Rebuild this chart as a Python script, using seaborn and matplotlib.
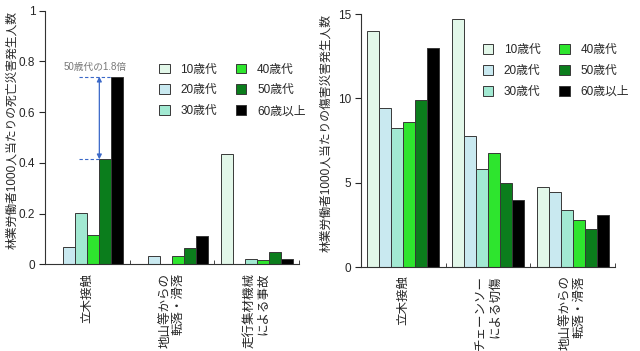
import seaborn as sns
import matplotlib.pyplot as plt
import pandas as pd

# age groups and colours
ages = ['10歳代', '20歳代', '30歳代', '40歳代', '50歳代', '60歳以上']
colors = ['#e2f7e9', '#c9e9f0', '#a2e9d2', '#2ee52e', '#0b7d1c', '#000000']

# fatal accidents per 1000 workers
fatal_cats = ['立木接触', '地山等からの\n転落・滑落', '走行集材機械\nによる事故']
fatal_10 = [0.0, 0.0, 0.435]
fatal_20 = [0.067, 0.033, 0.0]
fatal_30 = [0.201, 0.0, 0.020]
fatal_40 = [0.116, 0.033, 0.017]
fatal_50 = [0.414, 0.063, 0.050]
fatal_60 = [0.740, 0.112, 0.020]

# injury accidents per 1000 workers
injury_cats = ['立木接触', 'チェーンソー\nによる切傷', '地山等からの\n転落・滑落']
injury_10 = [14.0, 14.7, 4.75]
injury_20 = [9.45, 7.75, 4.48]
injury_30 = [8.27, 5.82, 3.41]
injury_40 = [8.6, 6.79, 2.82]
injury_50 = [9.92, 5.0, 2.23]
injury_60 = [13.0, 3.98, 3.06]


def long_df(cats, series):
    rows = []
    for age, vals in zip(ages, series):
        for c, v in zip(cats, vals):
            rows.append({'cat': c, 'age': age, 'value': v})
    return pd.DataFrame(rows)


df_fatal = long_df(fatal_cats, [fatal_10, fatal_20, fatal_30, fatal_40, fatal_50, fatal_60])
df_injury = long_df(injury_cats, [injury_10, injury_20, injury_30, injury_40, injury_50, injury_60])

sns.set_style('ticks')
plt.rcParams['font.family'] = ['Liberation Sans', 'Noto Sans CJK JP']
plt.rcParams['font.size'] = 8.5

fig = plt.figure(figsize=(6.4, 3.51), dpi=100)
ax1 = fig.add_axes([0.0703, 0.247, 0.397, 0.7225])
ax2 = fig.add_axes([0.564, 0.239, 0.397, 0.721])


def draw(ax, df, cats, ymax, yticks, ylabel, leg_anchor, label_x):
    sns.barplot(data=df, x='cat', y='value', hue='age', hue_order=ages,
                order=cats, palette=colors, width=0.85, edgecolor='#383838',
                linewidth=0.7, errorbar=None, ax=ax, saturation=1)
    ax.set_xlim(-0.5, 2.5)
    ax.set_ylim(0, ymax)
    ax.set_yticks(yticks)
    ax.set_yticklabels(['{:g}'.format(t) for t in yticks])
    ax.set_xlabel('')
    ax.set_ylabel(ylabel, fontsize=8.5)
    ax.yaxis.set_label_coords(label_x, 0.53)
    ax.set_xticks(range(len(cats)))
    ax.set_xticklabels(cats, rotation=90, va='top', ha='center',
                       multialignment='right', fontsize=9)
    ax.set_xticks([0.5, 1.5, 2.5], minor=True)
    ax.tick_params(axis='x', which='major', length=0, pad=6)
    ax.tick_params(axis='x', which='minor', direction='in', length=3)
    ax.tick_params(axis='y', length=4, width=0.8, pad=3)
    for s in ['top', 'right']:
        ax.spines[s].set_visible(False)
    for s in ['left', 'bottom']:
        ax.spines[s].set_linewidth(0.8)
        ax.spines[s].set_color('#333333')
    ax.legend(loc='upper left', bbox_to_anchor=leg_anchor, ncol=2,
              frameon=False, handlelength=0.9, handleheight=0.9,
              columnspacing=1.6, labelspacing=0.75, handletextpad=0.9,
              borderaxespad=0, fontsize=8.5)


draw(ax1, df_fatal, fatal_cats, 1, [0, 0.2, 0.4, 0.6, 0.8, 1],
     '林業労働者1000人当たりの死亡災害発生人数', (0.43, 0.81), -0.105)
draw(ax2, df_injury, injury_cats, 15, [0, 5, 10, 15],
     '林業労働者1000人当たりの傷害災害発生人数', (0.46, 0.9), -0.112)

# annotation: 60歳以上 vs 50歳代 on 立木接触
bar50 = ax1.containers[4][0]
bar60 = ax1.containers[5][0]
v50 = bar50.get_height()
v60 = bar60.get_height()
x50 = bar50.get_x()
x60 = bar60.get_x()
dash_start = x50 - 0.24
blue = '#3a68c8'
ax1.plot([dash_start, x60], [v60, v60], ls=(0, (3, 2)), color=blue, lw=0.8)
ax1.plot([dash_start, x50], [v50, v50], ls=(0, (3, 2)), color=blue, lw=0.8)
ax1.annotate('', xy=(x50, v50), xytext=(x50, v60),
             arrowprops=dict(arrowstyle='<|-|>', color=blue, lw=0.9,
                             mutation_scale=7, shrinkA=0, shrinkB=0))
ax1.text(x50 - 0.05, v60 + 0.02, '50歳代の1.8倍', ha='center', va='bottom',
         fontsize=7, color='#777777')

fig.savefig('out.png', dpi=100)
